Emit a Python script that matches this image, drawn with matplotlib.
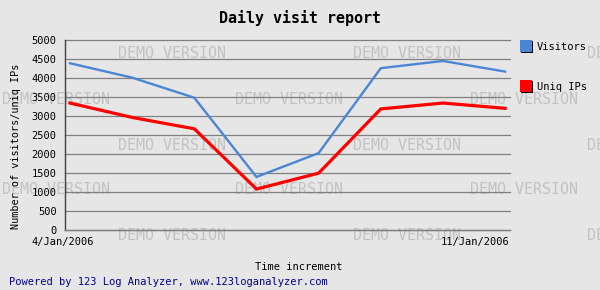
import matplotlib
matplotlib.use("Agg")
import matplotlib.pyplot as plt
import matplotlib.patches as mpatches

# --- data ---
days = ['4/Jan/2006', '5/Jan/2006', '6/Jan/2006', '7/Jan/2006',
        '8/Jan/2006', '9/Jan/2006', '10/Jan/2006', '11/Jan/2006']
visitors = [4400, 4020, 3490, 1400, 2030, 4270, 4460, 4180]
uniq_ips = [3350, 2970, 2670, 1080, 1500, 3195, 3350, 3210]
y_ticks = list(range(0, 5001, 500))

BG = '#e6e6e6'
BLUE = '#4a86d4'
RED = '#ff0000'
MONO = 'DejaVu Sans Mono'
W, H = 600, 290

fig = plt.figure(figsize=(6, 2.9), dpi=100, facecolor=BG)
ax = fig.add_axes([65 / W, 1 - 230 / H, 444.5 / W, 189.5 / H])
ax.set_facecolor('none')

# watermark, drawn behind the axes
for row, ypix in enumerate([54, 100, 145, 190, 236]):
    starts = [118, 353, 587] if row % 2 == 0 else [2, 235, 470]
    for xpix in starts:
        fig.text(xpix / W, 1 - ypix / H, 'DEMO VERSION', family=MONO,
                 fontsize=10.8, color='#c2c2c2', ha='left', va='center',
                 zorder=-5)

x = list(range(len(days)))
ax.plot(x, visitors, color=BLUE, lw=1.7, zorder=3, solid_joinstyle='miter')
ax.plot(x, uniq_ips, color=RED, lw=2.3, zorder=3, solid_joinstyle='miter')

ax.set_xlim(-0.08, 7.07)
ax.set_ylim(0, 5000)
ax.set_yticks(y_ticks)
ax.set_yticklabels([str(v) for v in y_ticks], family=MONO, fontsize=7.5)
ax.tick_params(axis='y', length=0, pad=6)
ax.set_xticks([])
ax.yaxis.grid(True, color='#808080', lw=0.9)
for gl in ax.get_ygridlines():
    gl.set_clip_on(False)
ax.set_axisbelow(True)
for s in ['top', 'right']:
    ax.spines[s].set_visible(False)
ax.spines['left'].set_color('#404040')
ax.spines['bottom'].set_color('#808080')
ax.spines['left'].set_linewidth(1.0)
ax.spines['bottom'].set_linewidth(1.0)

# first / last date labels
fig.text(63 / W, 1 - 242 / H, days[0], family=MONO, fontsize=7.5,
         ha='center', va='center')
fig.text(509.5 / W, 1 - 242 / H, days[-1], family=MONO, fontsize=7.5,
         ha='right', va='center')

fig.text(300 / W, 1 - 18 / H, 'Daily visit report', family=MONO,
         fontsize=10.8, fontweight='bold', ha='center', va='center')
fig.text(299 / W, 1 - 267 / H, 'Time increment', family=MONO,
         fontsize=7.5, ha='center', va='center')
fig.text(16 / W, 1 - 146 / H, 'Number of visitors/uniq IPs', family=MONO,
         fontsize=7.3, rotation=90, ha='center', va='center')
fig.text(9 / W, 1 - 282 / H,
         'Powered by 123 Log Analyzer, www.123loganalyzer.com',
         family=MONO, fontsize=7.5, color='#000090', ha='left', va='center')

# legend squares with shadow edge
for ypix, col, name in [(40, BLUE, 'Visitors'), (80, RED, 'Uniq IPs')]:
    fig.patches.append(mpatches.Rectangle((521 / W, 1 - (ypix + 13) / H),
                                          12 / W, 12 / H, transform=fig.transFigure,
                                          facecolor='black', edgecolor='none'))
    fig.patches.append(mpatches.Rectangle((520 / W, 1 - (ypix + 12) / H),
                                          12 / W, 12 / H, transform=fig.transFigure,
                                          facecolor=col, edgecolor='none'))
    fig.text(537 / W, 1 - (ypix + 7) / H, name, family=MONO, fontsize=7.5,
             ha='left', va='center')

fig.savefig('out.png', dpi=100, facecolor=BG)
